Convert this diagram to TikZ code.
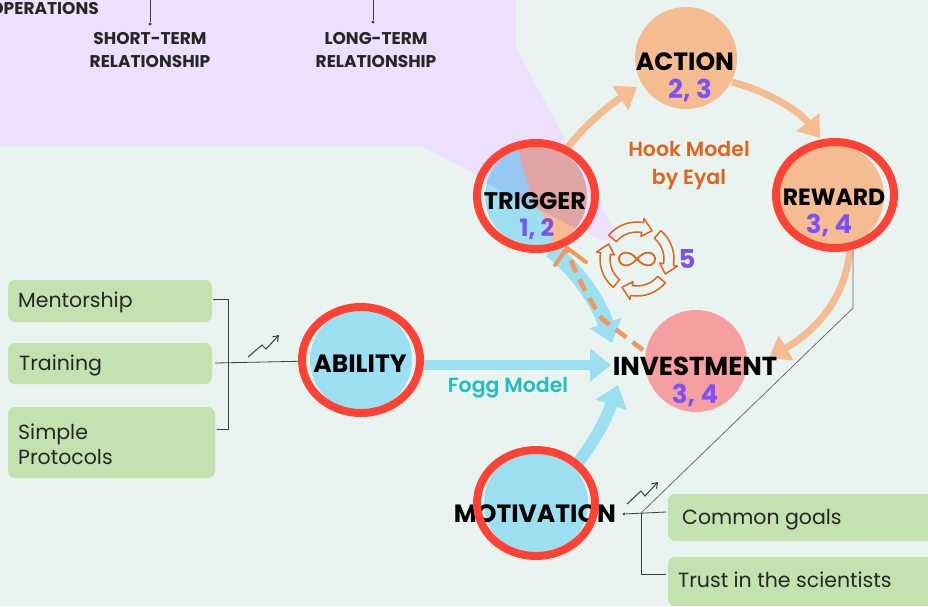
\documentclass[tikz,border=0pt]{standalone}
\usepackage{fontspec}
\setmainfont{Poppins}
\newfontfamily\medfont{Poppins SemiBold}
\usetikzlibrary{arrows.meta,shapes.geometric}
\definecolor{bgmint}{HTML}{E9F3F0}
\definecolor{bglilac}{HTML}{ECE0FC}
\definecolor{skyblob}{HTML}{9CDFF0}
\definecolor{peach}{HTML}{F5BC92}
\definecolor{rosy}{HTML}{F59FA0}
\definecolor{ringred}{HTML}{FF4234}
\definecolor{leafgreen}{HTML}{C3E2B0}
\definecolor{hookorange}{HTML}{E0641E}
\definecolor{numviolet}{HTML}{7B52F5}
\definecolor{foggteal}{HTML}{22BCC4}
\definecolor{inkgrey}{HTML}{3C3C44}
\definecolor{dashorange}{HTML}{F0975A}
\definecolor{triggerblue}{HTML}{97C8F3}
\definecolor{triggerpink}{HTML}{E0A5A5}
\tikzset{
  blob/.style={circle,minimum size=#1,inner sep=0pt},
  ring/.style={ellipse,draw=ringred,line width=8pt,minimum width=118pt,minimum height=106pt,inner sep=0pt},
  term/.style={font=\fontsize{#1}{#1}\selectfont\bfseries,text=black,inner sep=0pt},
  num/.style={font=\fontsize{#1}{#1}\selectfont\bfseries,text=numviolet,inner sep=0pt},
  head/.style={font=\fontsize{17}{23}\selectfont\bfseries,text=black!85,align=center,inner sep=0pt},
  taglabel/.style={font=\fontsize{20.5}{25}\selectfont,text=black!85,anchor=west,align=left,inner sep=0pt},
  hook/.style={font=\fontsize{20.5}{28}\selectfont\medfont,text=hookorange,align=center,inner sep=0pt},
  thin line/.style={draw=inkgrey,line width=0.8pt},
  peach arrow/.style={draw=peach,line width=7pt,-{Triangle[length=20pt,width=28pt]}},
  sky arrow/.style={draw=skyblob,line width=#1,-{Triangle[length=21pt,width=32pt]}},
  trendup/.style={draw=inkgrey,line width=1pt,-{Straight Barb[length=5pt,width=7pt]}},
}
\begin{document}
\begin{tikzpicture}[x=1pt,y=-1pt]
    \useasboundingbox (0,0) rectangle (928,606);
    \fill[bgmint] (0,0) rectangle (928,606);
    % lilac panel from above
    \fill[bglilac] (0,0) -- (516,0) -- (516,48) -- (618,238) -- (600,240) -- (422,146) -- (0,146) -- cycle;
    % panel leftovers
    \node[head,anchor=east] (operations) at (99,9) {OPERATIONS};
    \coordinate (shorttop) at (150,0);
    \node[circle,fill=inkgrey,inner sep=1.2pt] (shortdot) at (150,24) {};
    \draw[thin line] (shorttop) -- (shortdot);
    \coordinate (longtop) at (373,0);
    \node[circle,fill=inkgrey,inner sep=1.2pt] (longdot) at (373,22) {};
    \draw[thin line] (longtop) -- (longdot);
    \node[head] (shortterm) at (150,50) {SHORT-TERM\\RELATIONSHIP};
    \node[head] (longterm) at (376,50) {LONG-TERM\\RELATIONSHIP};
    % hook blobs
    \node[blob=102pt,fill=peach] (action) at (686,58) {};
    \node[blob=104pt,fill=peach] (reward) at (832,196) {};
    \node[blob=102pt,fill=rosy] (investment) at (696,361) {};
    % hook arrows
    \draw[peach arrow] (566,150) .. controls (580,130) and (605,108) .. (637,87);
    \draw[peach arrow] (732,82) .. controls (770,92) and (800,112) .. (820,138);
    \draw[peach arrow] (850,250) .. controls (846,290) and (825,325) .. (769,358);
    % fogg arrows
    \draw[sky arrow=10pt] (420,365) -- (611,365);
    \draw[sky arrow=12pt] (570,472) .. controls (590,450) and (606,420) .. (618,385);
    \draw[sky arrow=16pt] (551,250) .. controls (575,268) and (598,300) .. (612,343);
    % dashed return
    \draw[dashorange,line width=4.5pt,dash pattern=on 13pt off 8pt] (643,350) -- (602,319) .. controls (590,300) and (578,280) .. (567,250);
    \draw[dashorange,line width=4pt,line cap=round] (555,265) -- (567,248) -- (586,262);
    % trigger wedge
    \node[blob=102pt,fill=skyblob] (trigger) at (536,196) {};
    \begin{scope}
      \clip (536,196) circle (51pt);
      \fill[peach] (515,140) -- (600,140) -- (600,260) -- (553,243) -- cycle;
      \fill[triggerpink] (515,140) -- (600,140) -- (600,240) -- (534,207) -- cycle;
      \fill[triggerblue] (470,160) -- (515,140) -- (534,207) -- (470,175) -- cycle;
    \end{scope}
    % fogg blobs
    \node[blob=102pt,fill=skyblob] (ability) at (361,360) {};
    \node[blob=104pt,fill=skyblob] (motivation) at (536,503) {};
    % labels
    \node[term=25] (actionlabel) at (685,62) {ACTION};
    \node[num=26] (actionnum) at (690,90) {2, 3};
    \node[term=24] (triggerlabel) at (535,201) {TRIGGER};
    \node[num=24] (triggernum) at (537,229) {1, 2};
    \node[term=23.5] (rewardlabel) at (834,197) {REWARD};
    \node[num=26] (rewardnum) at (829,225) {3, 4};
    \node[term=26] (investlabel) at (695,366) {INVESTMENT};
    \node[num=26] (investnum) at (695,395) {3, 4};
    \node[term=25] (abilitylabel) at (360,364) {ABILITY};
    \node[term=25] (motivlabel) at (535,514) {MOTIVATION};
    % rings
    \node[ring] (triggerring) at (536,196) {};
    \node[ring] (rewardring) at (835,195) {};
    \node[ring] (abilityring) at (361,360) {};
    \node[ring] (motivationring) at (536,503) {};
    \node[hook] (hooktext) at (689,166) {Hook Model\\by Eyal};
    \node[font=\fontsize{20.5}{21}\selectfont\medfont,text=foggteal,inner sep=0pt] (fogg) at (508,388) {Fogg Model};
    % loop icon
    \begin{scope}[shift={(637,259)}]
      \foreach \ang in {0,90,180,270}
        \draw[hookorange,line width=1.5pt,line join=round] (\ang-140:37) arc (\ang-140:\ang-80:37) -- (\ang-80:41) -- (\ang-62:32) -- (\ang-80:23) -- (\ang-80:27) arc (\ang-80:\ang-140:27) -- cycle;
      \draw[hookorange,line width=1.8pt] plot[domain=0:360,samples=72,smooth cycle] ({18*cos(\x)/(1+sin(\x)^2)},{18*sin(\x)*cos(\x)/(1+sin(\x)^2)});
    \end{scope}
    \node[num=26] (loopnum) at (687,259) {5};
    % left tags
    \fill[leafgreen,rounded corners=7pt] (8,280) rectangle (212,322);
    \fill[leafgreen,rounded corners=7pt] (8,343) rectangle (212,384);
    \fill[leafgreen,rounded corners=7pt] (8,407) rectangle (215,478);
    \node[taglabel] (mentorship) at (18,302) {Mentorship};
    \node[taglabel] (training) at (19,365) {Training};
    \node[taglabel] (protocols) at (18,444) {Simple\\Protocols};
    \coordinate (bracetop) at (228,299);
    \coordinate (bracebot) at (228,429);
    \draw[thin line] (213,299) -- (bracetop) -- (bracebot) -- (217,429);
    \draw[thin line] (215,363) -- (abilityring);
    \draw[trendup] (248,357) -- (262,345) -- (266,349) -- (279,335);
    % right tags
    \fill[leafgreen,rounded corners=7pt] (668,494) rectangle (940,541);
    \fill[leafgreen,rounded corners=7pt] (668,557) rectangle (940,606);
    \node[taglabel] (goals) at (682,520) {Common goals};
    \node[taglabel] (trust) at (678,580) {Trust in the scientists};
    \coordinate (forkpt) at (641,513);
    \node[circle,fill=inkgrey,inner sep=1pt] (forkdot) at (624,514) {};
    \draw[thin line] (forkdot) -- (666,512);
    \draw[thin line] (forkpt) -- (641,574) -- (666,574);
    \draw[thin line,draw=inkgrey!75] (forkpt) -- (853,308) -- (853,243);
    \draw[trendup] (627,504) -- (641,491) -- (645,496) -- (658,482);
\end{tikzpicture}
\end{document}
